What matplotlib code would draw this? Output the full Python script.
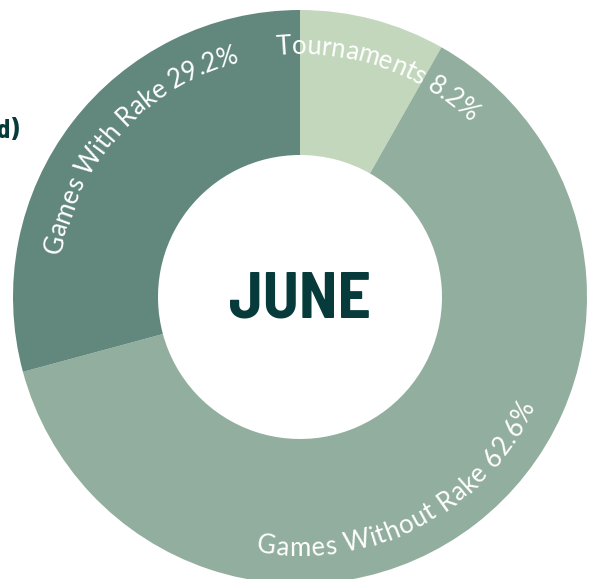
import numpy as np
import matplotlib
matplotlib.use("Agg")
import matplotlib.pyplot as plt
from matplotlib.font_manager import FontProperties

# ---- data ----
labels = ["Tournaments", "Games Without Rake", "Games With Rake"]
shares = [8.2, 62.6, 29.2]
colors = ["#c3d7bd", "#91ae9e", "#62887e"]
month = "JUNE"

W, H = 595, 579
CX, CY = 300, H - 297          # centre of the donut, y measured upwards
R_OUT, R_IN = 287, 142

# where each curved label starts (degrees clockwise from 12 o'clock),
# whether it runs clockwise (top half) or counter-clockwise (bottom half)
label_start = [-5.5, 190.0, 280.0]
label_cw = [True, False, True]

DARK = "#073a3a"
label_font = FontProperties(family=["Lato", "DejaVu Sans"], size=18.5)


def char_widths(text, renderer, prop):
    out = []
    for c in text:
        if c == " ":
            w = (renderer.get_text_width_height_descent("a a", prop, False)[0]
                 - renderer.get_text_width_height_descent("aa", prop, False)[0])
        else:
            w = renderer.get_text_width_height_descent(c, prop, False)[0]
        out.append(w)
    return out


def curved_text(ax, text, start_deg, clockwise, renderer):
    widths = char_widths(text, renderer, label_font)
    # baseline on the inner side for clockwise text, outer side otherwise
    r = 243 if clockwise else 259
    r_step = 246 if clockwise else 243
    pos = 0.0
    for c, w in zip(text, widths):
        mid = pos + w / 2.0
        dth = np.degrees(mid / r_step)
        th = start_deg + dth if clockwise else start_deg - dth
        x = CX + r * np.sin(np.radians(th))
        y = CY + r * np.cos(np.radians(th))
        rot = -th if clockwise else 180 - th
        ax.text(x, y, c, fontproperties=label_font, color="white",
                ha="center", va="baseline", rotation=rot,
                rotation_mode="anchor")
        pos += w


def main() -> None:
    fig = plt.figure(figsize=(W / 100, H / 100), dpi=100)
    ax = fig.add_axes([0, 0, 1, 1])

    ax.pie(shares, colors=colors, startangle=90, counterclock=False,
           radius=R_OUT, center=(CX, CY),
           wedgeprops=dict(width=R_OUT - R_IN, linewidth=0))
    ax.set_xlim(0, W)
    ax.set_ylim(0, H)
    ax.set_aspect("equal")
    ax.axis("off")

    renderer = fig.canvas.get_renderer()
    for lab, val, st, cw in zip(labels, shares, label_start, label_cw):
        curved_text(ax, f"{lab} {val}%", st, cw, renderer)

    ax.text(CX, H - 318, month, ha="center", va="baseline",
            family=["Barlow Semi Condensed", "DejaVu Sans"],
            weight="bold", fontsize=47, color=DARK)

    # title text cut off at the left edge (as in the source image)
    ax.text(19, H - 138, "d)", ha="right", va="baseline",
            family=["Barlow Semi Condensed", "DejaVu Sans"], weight="bold",
            fontsize=19, color=DARK)

    fig.savefig("out.png", dpi=100)
    plt.close(fig)


if __name__ == "__main__":
    main()
